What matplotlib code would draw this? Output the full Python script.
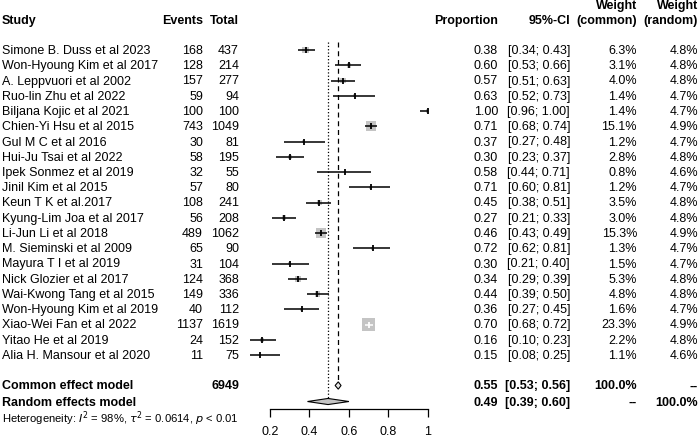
import numpy as np
import matplotlib
matplotlib.use("Agg")
import matplotlib.pyplot as plt
from matplotlib.patches import Polygon

plt.rcParams['font.family'] = ['Liberation Sans', 'DejaVu Sans']

# ---- data ----
studies = ["Simone B. Duss et al 2023", "Won-Hyoung Kim et al 2017", "A. Leppvuori et al 2002",
           "Ruo-lin Zhu et al 2022", "Biljana Kojic et al 2021", "Chien-Yi Hsu et al 2015",
           "Gul M C et al 2016", "Hui-Ju Tsai et al 2022", "Ipek Sonmez et al 2019",
           "Jinil Kim et al 2015", "Keun T K et al.2017", "Kyung-Lim Joa et al 2017",
           "Li-Jun Li et al 2018", "M. Sieminski et al 2009", "Mayura T I et al 2019",
           "Nick Glozier et al 2017", "Wai-Kwong Tang et al 2015", "Won-Hyoung Kim et al 2019",
           "Xiao-Wei Fan et al 2022", "Yitao He et al 2019", "Alia H. Mansour et al 2020"]
events = [168, 128, 157, 59, 100, 743, 30, 58, 32, 57, 108, 56, 489, 65, 31, 124, 149, 40, 1137, 24, 11]
totals = [437, 214, 277, 94, 100, 1049, 81, 195, 55, 80, 241, 208, 1062, 90, 104, 368, 336, 112, 1619, 152, 75]
prop = [0.38, 0.60, 0.57, 0.63, 1.00, 0.71, 0.37, 0.30, 0.58, 0.71, 0.45, 0.27, 0.46, 0.72, 0.30,
        0.34, 0.44, 0.36, 0.70, 0.16, 0.15]
ci_low = [0.34, 0.53, 0.51, 0.52, 0.96, 0.68, 0.27, 0.23, 0.44, 0.60, 0.38, 0.21, 0.43, 0.62, 0.21,
          0.29, 0.39, 0.27, 0.68, 0.10, 0.08]
ci_high = [0.43, 0.66, 0.63, 0.73, 1.00, 0.74, 0.48, 0.37, 0.71, 0.81, 0.51, 0.33, 0.49, 0.81, 0.40,
           0.39, 0.50, 0.45, 0.72, 0.23, 0.25]
w_common = [6.3, 3.1, 4.0, 1.4, 1.4, 15.1, 1.2, 2.8, 0.8, 1.2, 3.5, 3.0, 15.3, 1.3, 1.5, 5.3, 4.8,
            1.6, 23.3, 2.2, 1.1]
w_random = [4.8, 4.8, 4.8, 4.7, 4.7, 4.9, 4.7, 4.8, 4.6, 4.7, 4.8, 4.8, 4.9, 4.7, 4.7, 4.8, 4.8,
            4.7, 4.9, 4.8, 4.6]

total_n = 6949
common_est, common_ci = 0.546, (0.53, 0.56)
random_est, random_ci = 0.494, (0.39, 0.60)
ticks = [0.2, 0.4, 0.6, 0.8, 1.0]
tick_labels = ["0.2", "0.4", "0.6", "0.8", "1"]

# ---- layout (pixels of a 700x439 figure) ----
W, H = 700, 439
ROW0, ROWH = 51, 15.25          # pixel y of first study row, row height
PX0, PXU = 230.5, 197.4         # pixel x of proportion 0, pixels per unit
FS = 9.0

def row_of(py):
    return (py - ROW0) / ROWH

fig = plt.figure(figsize=(W / 100, H / 100), dpi=100)
bg = fig.add_axes([0, 0, 1, 1])
bg.set_xlim(0, W)
bg.set_ylim(row_of(H), row_of(0))
bg.axis("off")

def put(px, row, s, ha="left", bold=False, fs=FS):
    bg.text(px, row, s, ha=ha, va="center", fontsize=fs,
            fontweight="bold" if bold else "normal")

# headers
put(2, -1.97, "Study", bold=True)
put(203, -1.97, "Events", ha="right", bold=True)
put(239, -1.97, "Total", ha="right", bold=True)
put(498, -1.97, "Proportion", ha="right", bold=True)
put(570, -1.97, "95%-CI", ha="right", bold=True)
put(637, -2.95, "Weight", ha="right", bold=True)
put(637, -1.97, "(common)", ha="right", bold=True)
put(698, -2.95, "Weight", ha="right", bold=True)
put(698, -1.97, "(random)", ha="right", bold=True)

for i in range(len(studies)):
    put(2, i, studies[i])
    put(203, i, str(events[i]), ha="right")
    put(239, i, str(totals[i]), ha="right")
    put(498, i, f"{prop[i]:.2f}", ha="right")
    put(570, i, f"[{ci_low[i]:.2f}; {ci_high[i]:.2f}]", ha="right")
    put(637, i, f"{w_common[i]:.1f}%", ha="right")
    put(698, i, f"{w_random[i]:.1f}%", ha="right")

r_com, r_ran = 22.0, 23.05
put(2, r_com, "Common effect model", bold=True)
put(239, r_com, str(total_n), ha="right", bold=True)
put(498, r_com, "0.55", ha="right", bold=True)
put(570, r_com, f"[{common_ci[0]:.2f}; {common_ci[1]:.2f}]", ha="right", bold=True)
put(637, r_com, "100.0%", ha="right", bold=True)
put(698, r_com, "--", ha="right", bold=True)
put(2, r_ran, "Random effects model", bold=True)
put(498, r_ran, "0.49", ha="right", bold=True)
put(570, r_ran, f"[{random_ci[0]:.2f}; {random_ci[1]:.2f}]", ha="right", bold=True)
put(637, r_ran, "--", ha="right", bold=True)
put(698, r_ran, "100.0%", ha="right", bold=True)
put(2, 24.1, r"Heterogeneity: $I^2$ = 98%, $\tau^2$ = 0.0614, $p$ < 0.01", fs=8.1)

# ---- forest panel ----
left_px, right_px, top_px, bot_px = 250, 440, 40, 410
ax = fig.add_axes([left_px / W, 1 - bot_px / H, (right_px - left_px) / W, (bot_px - top_px) / H])
ax.set_xlim((left_px - PX0) / PXU, (right_px - PX0) / PXU)
ax.set_ylim(row_of(bot_px), row_of(top_px))
ax.patch.set_alpha(0)
for s in ["top", "right", "left"]:
    ax.spines[s].set_visible(False)
ax.spines["bottom"].set_bounds(0.2, 1.0)
ax.spines["bottom"].set_linewidth(0.9)
ax.set_yticks([])
ax.set_xticks(ticks)
ax.set_xticklabels(tick_labels, fontsize=FS)
ax.tick_params(axis="x", direction="out", length=5.5, width=0.9, pad=6)

ax.plot([random_est, random_est], [row_of(43), r_ran - 0.2], color="black", ls=":", lw=0.9)
ax.plot([common_est, common_est], [row_of(43), r_com - 0.25], color="black", ls=(0, (4, 3)), lw=0.9)

for i in range(len(studies)):
    side_px = 2.6 * np.sqrt(w_common[i])
    half = side_px / 2 / PXU
    inside = ci_low[i] >= prop[i] - half and ci_high[i] <= prop[i] + half
    lc = "white" if inside else "black"
    ax.scatter([prop[i]], [i], marker="s", s=(side_px * 0.72) ** 2, color="#c4c4c4",
               edgecolors="none", zorder=2)
    ax.plot([ci_low[i], ci_high[i]], [i, i], color=lc, lw=1.1, zorder=3, solid_capstyle="butt")
    ax.plot([prop[i]], [i], marker="|", ms=4, mew=1.3, color=lc, zorder=4)

dh_c, dh_r = 0.24, 0.2
ax.add_patch(Polygon([[common_ci[0], r_com], [common_est, r_com - dh_c],
                      [common_ci[1], r_com], [common_est, r_com + dh_c]],
                     closed=True, facecolor="#e6e6e6", edgecolor="black", lw=0.8, zorder=3))
ax.add_patch(Polygon([[random_ci[0], r_ran], [random_est, r_ran - dh_r],
                      [random_ci[1], r_ran], [random_est, r_ran + dh_r]],
                     closed=True, facecolor="#c4c4c4", edgecolor="black", lw=0.8, zorder=3))

fig.savefig("out.png", dpi=100)
